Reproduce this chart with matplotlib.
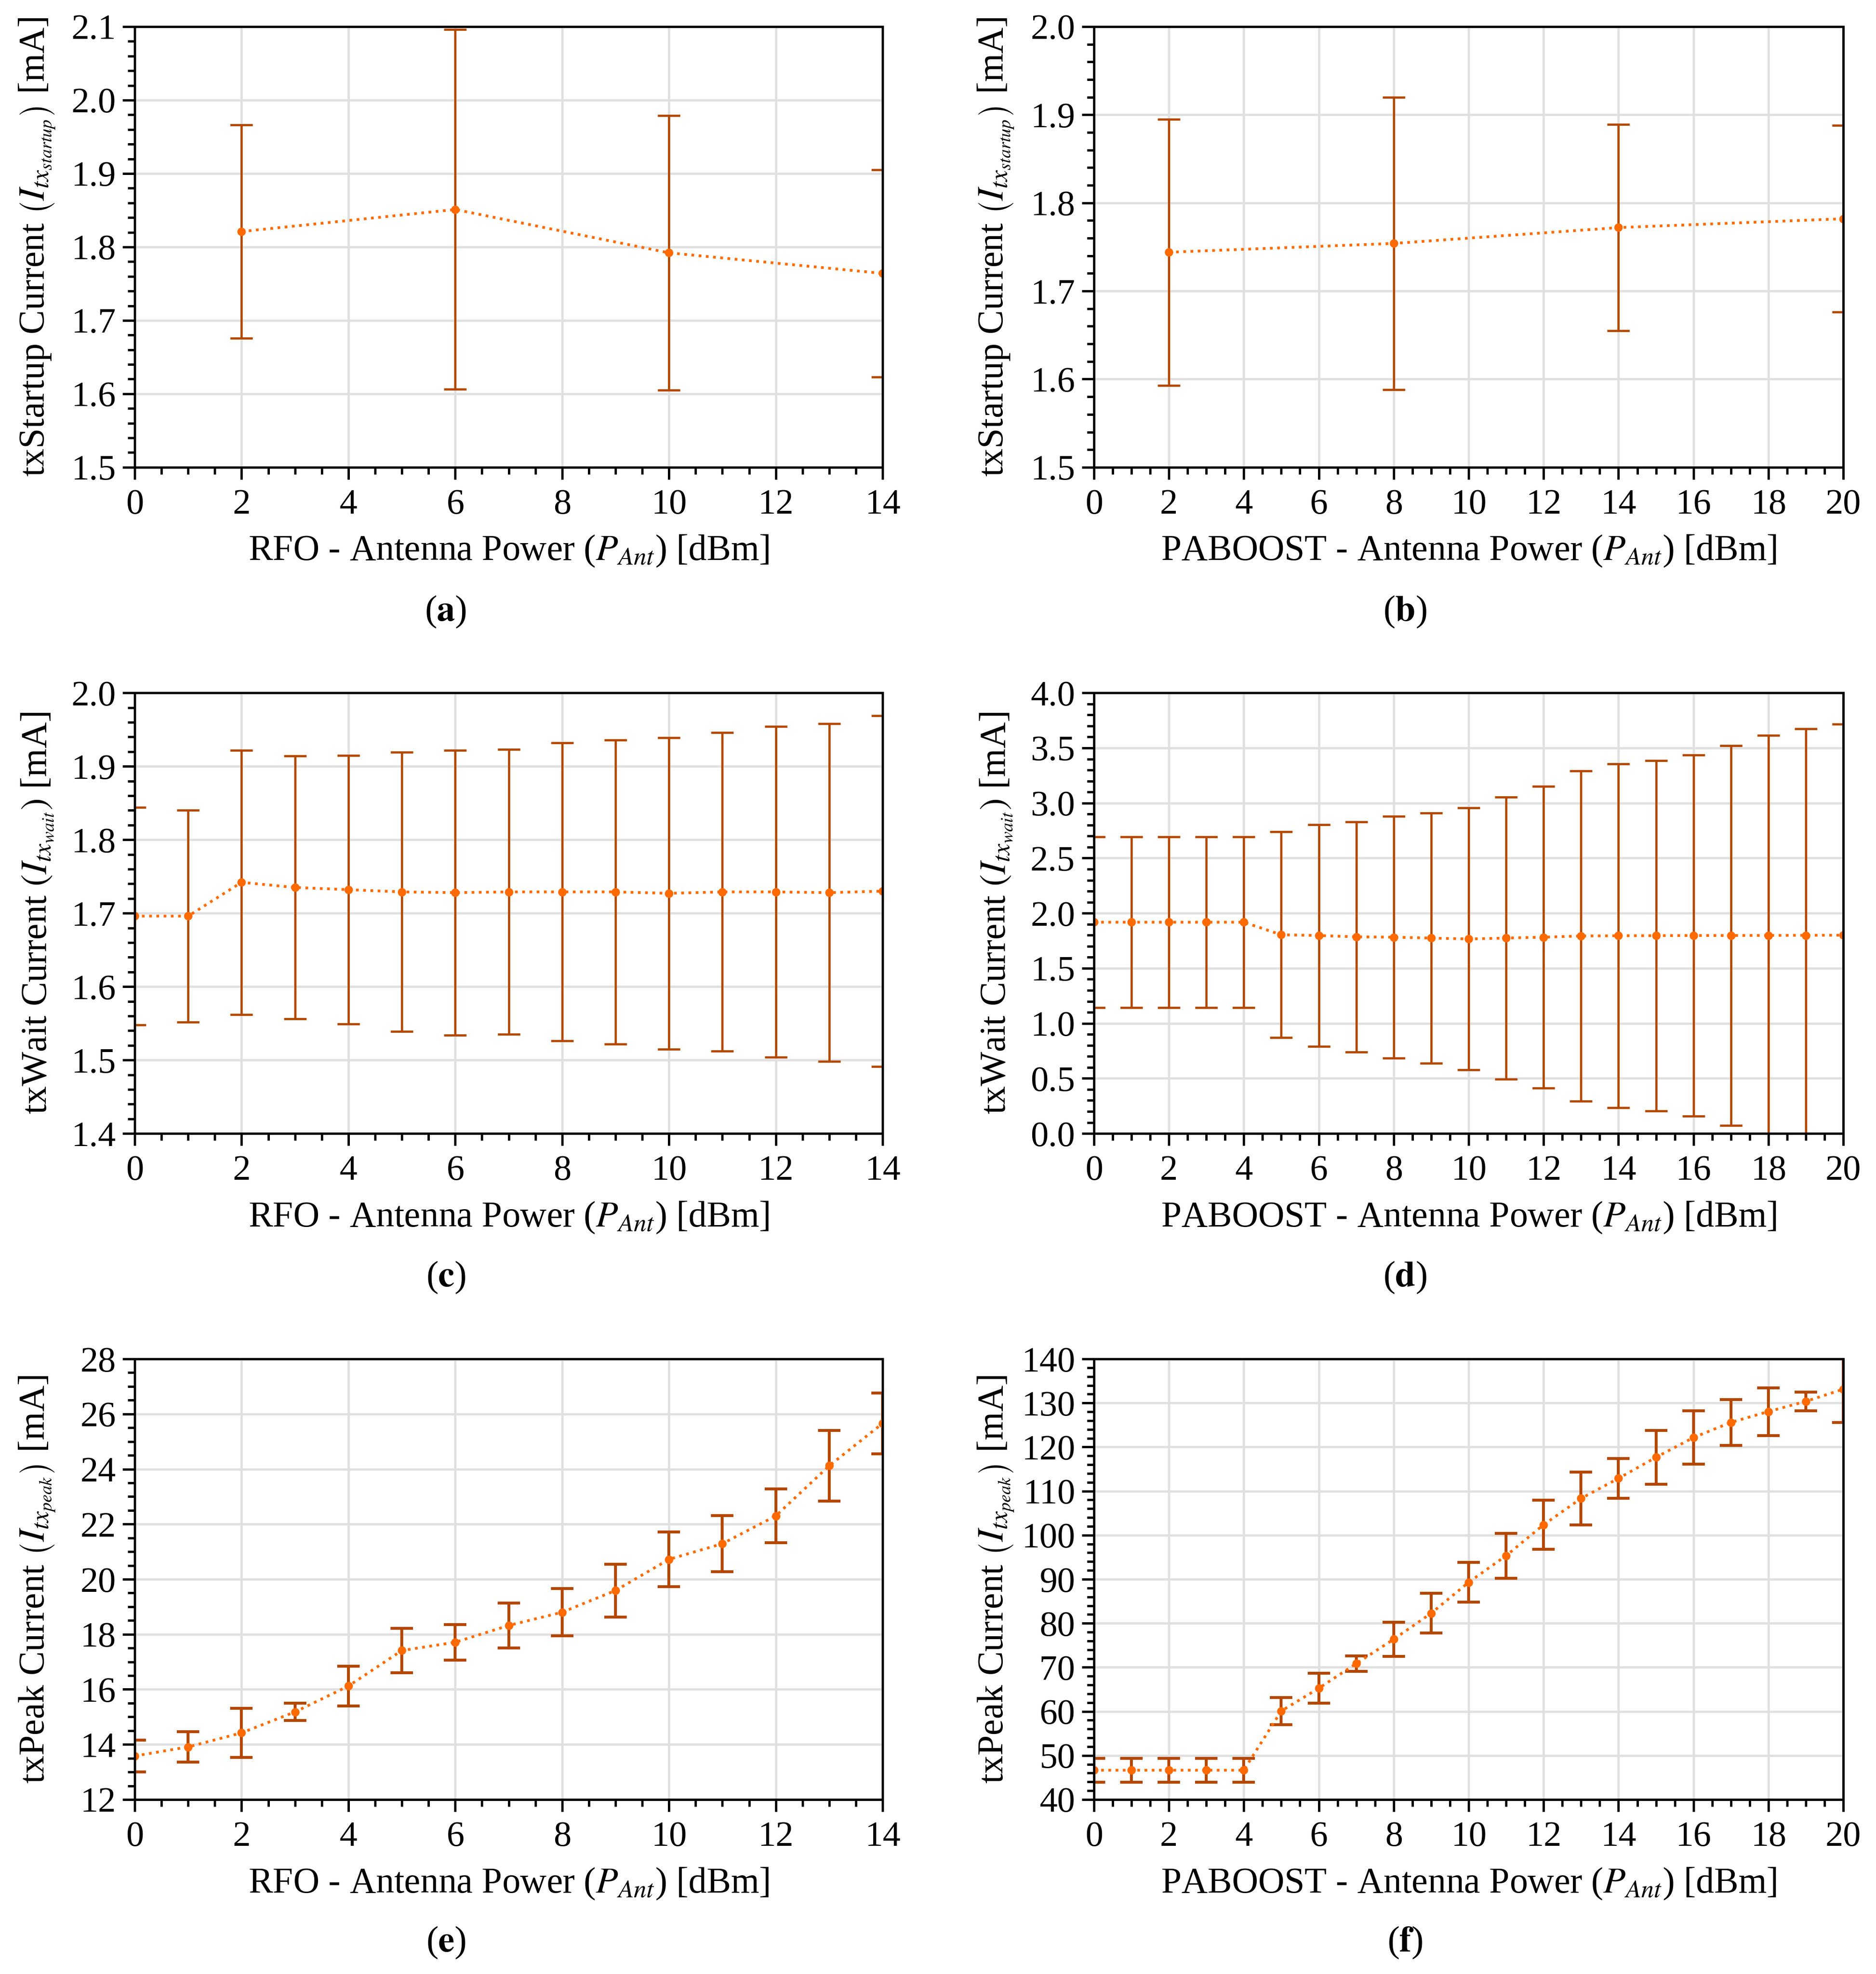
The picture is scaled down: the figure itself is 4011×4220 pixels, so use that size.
import numpy as np
import matplotlib
matplotlib.use("Agg")
import matplotlib.pyplot as plt
from matplotlib.ticker import MultipleLocator, AutoMinorLocator

plt.rcParams['font.family'] = ['Liberation Serif', 'DejaVu Serif']
plt.rcParams['mathtext.fontset'] = 'stix'

# ---------------- data ----------------
a_x = [2, 6, 10, 14]
a_mean = [1.821, 1.851, 1.792, 1.764]
a_err = [0.145, 0.245, 0.187, 0.141]

b_x = [2, 8, 14, 20]
b_mean = [1.744, 1.754, 1.772, 1.782]
b_err = [0.151, 0.166, 0.117, 0.106]

c_x = list(range(0, 15))
c_mean = [1.696, 1.696, 1.742, 1.735, 1.732, 1.729, 1.728, 1.729, 1.729,
          1.729, 1.727, 1.729, 1.729, 1.728, 1.730]
c_err = [0.148, 0.144, 0.180, 0.179, 0.183, 0.190, 0.194, 0.194, 0.203,
         0.207, 0.212, 0.217, 0.225, 0.230, 0.239]

d_x = list(range(0, 21))
d_mean = [1.918, 1.918, 1.918, 1.918, 1.918, 1.804, 1.797, 1.785, 1.782,
          1.774, 1.766, 1.774, 1.782, 1.793, 1.795, 1.796, 1.797, 1.797,
          1.798, 1.799, 1.800]
d_err = [0.775, 0.775, 0.775, 0.775, 0.775, 0.935, 1.005, 1.045, 1.096,
         1.136, 1.190, 1.282, 1.370, 1.500, 1.561, 1.590, 1.639, 1.725,
         1.816, 1.875, 1.915]

e_x = list(range(0, 15))
e_mean = [13.58, 13.91, 14.42, 15.18, 16.12, 17.41, 17.71, 18.32, 18.80,
          19.59, 20.72, 21.29, 22.30, 24.12, 25.66]
e_err = [0.585, 0.555, 0.895, 0.31, 0.725, 0.81, 0.65, 0.815, 0.855,
         0.96, 1.0, 1.02, 0.98, 1.285, 1.10]

f_x = list(range(0, 21))
f_mean = [46.65, 46.65, 46.65, 46.65, 46.65, 60.09, 65.24, 70.84, 76.37,
          82.27, 89.29, 95.34, 102.36, 108.33, 112.89, 117.67, 122.15,
          125.59, 128.05, 130.37, 133.13]
f_err = [2.69, 2.69, 2.69, 2.69, 2.69, 3.065, 3.40, 1.755, 3.845, 4.52,
         4.48, 5.115, 5.60, 6.015, 4.48, 6.085, 6.085, 5.19, 5.415, 2.13,
         7.54]

rfo_xlabel = r'RFO - Antenna Power ($P_{Ant}$) [dBm]'
pab_xlabel = r'PABOOST - Antenna Power ($P_{Ant}$) [dBm]'
ylabels = [r'txStartup Current $\left(I_{tx_{startup}}\right)$ [mA]',
           r'txWait Current $\left(I_{tx_{wait}}\right)$ [mA]',
           r'txPeak Current $\left(I_{tx_{peak}}\right)$ [mA]']
panel_letters = ['a', 'b', 'c', 'd', 'e', 'f']

LINE_C = '#ff6a00'
ERR_C = '#b34700'
TICK_FS = 55
LAB_FS = 56

fig = plt.figure(figsize=(40.11, 42.20), dpi=100)

lefts = [0.0718, 0.5831]
widths = [0.3987, 0.3995]
bottoms = [0.7633, 0.4258, 0.0884]
height = 0.2232

panels = [
    (a_x, a_mean, a_err, (0, 14), (1.5, 2.1), 0.1, rfo_xlabel, 0),
    (b_x, b_mean, b_err, (0, 20), (1.5, 2.0), 0.1, pab_xlabel, 0),
    (c_x, c_mean, c_err, (0, 14), (1.4, 2.0), 0.1, rfo_xlabel, 1),
    (d_x, d_mean, d_err, (0, 20), (0.0, 4.0), 0.5, pab_xlabel, 1),
    (e_x, e_mean, e_err, (0, 14), (12, 28), 2, rfo_xlabel, 2),
    (f_x, f_mean, f_err, (0, 20), (40, 140), 10, pab_xlabel, 2),
]

label_x = [0.2376, 0.749]
label_y = [0.690, 0.3527, 0.0159]

for i, (x, m, e, xl, yl, ystep, xlab, row) in enumerate(panels):
    col = i % 2
    ax = fig.add_axes([lefts[col], bottoms[row], widths[col], height])
    big = row == 2
    ax.errorbar(x, m, yerr=e, fmt=':o', color=LINE_C, ecolor=ERR_C,
                elinewidth=4.5 if big else 3.4,
                capthick=4.5 if big else 3.4,
                capsize=17, lw=4.2, markersize=12, zorder=2.2)
    ax.set_xlim(*xl)
    ax.set_ylim(*yl)
    ax.xaxis.set_major_locator(MultipleLocator(2))
    ax.xaxis.set_minor_locator(AutoMinorLocator(4))
    ax.yaxis.set_major_locator(MultipleLocator(ystep))
    ax.yaxis.set_minor_locator(AutoMinorLocator())
    ax.grid(True, which='major', color='#e0e0e0', lw=3.5, zorder=0)
    ax.set_axisbelow(True)
    for sp in ax.spines.values():
        sp.set_linewidth(3.6)
        sp.set_zorder(3)
    ax.tick_params(which='both', direction='out', top=False, right=False,
                   width=3.6, labelsize=TICK_FS)
    ax.tick_params(which='major', length=19)
    ax.tick_params(which='minor', length=11)
    ax.tick_params(axis='x', pad=14)
    ax.tick_params(axis='y', pad=10)
    ax.set_xlabel(xlab, fontsize=LAB_FS)
    ax.xaxis.set_label_coords(0.5, -0.191)
    ax.xaxis.label.set_va('center')
    ax.set_ylabel(ylabels[row], fontsize=LAB_FS)
    ax.yaxis.set_label_coords(-0.13, 0.5)
    ax.yaxis.label.set_va('center')
    fig.text(label_x[col], label_y[row], '(' + r'$\mathbf{' + panel_letters[i] + '}$' + ')',
             ha='center', va='center', fontsize=LAB_FS)

fig.savefig('out.png', dpi=100)
